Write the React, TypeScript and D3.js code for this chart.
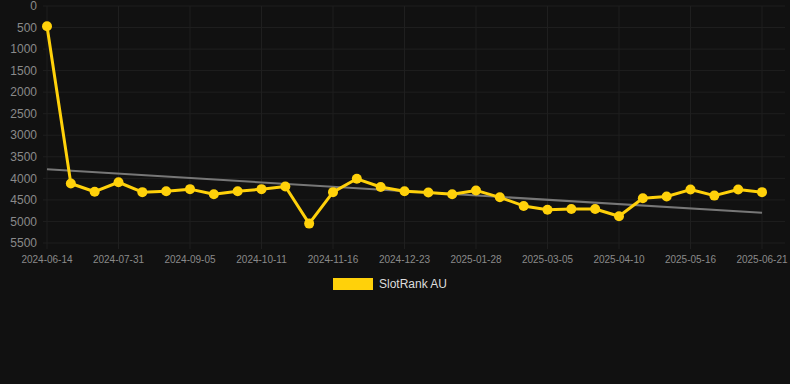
import React from "react";
import * as d3 from "d3";

const dates = [
  "2024-06-14", "2024-07-07", "2024-07-19", "2024-07-31", "2024-08-12", "2024-08-24",
  "2024-09-05", "2024-09-17", "2024-09-29", "2024-10-11", "2024-10-23", "2024-11-04",
  "2024-11-16", "2024-11-28", "2024-12-11", "2024-12-23", "2025-01-04", "2025-01-16",
  "2025-01-28", "2025-02-09", "2025-02-21", "2025-03-05", "2025-03-17", "2025-03-29",
  "2025-04-10", "2025-04-22", "2025-05-04", "2025-05-16", "2025-05-28", "2025-06-09",
  "2025-06-21",
];

const rankValues = [
  470, 4120, 4310, 4090, 4320, 4300, 4250, 4370, 4300, 4250, 4190, 5050,
  4320, 4010, 4200, 4300, 4330, 4370, 4280, 4440, 4640, 4730, 4710, 4710,
  4880, 4460, 4420, 4260, 4400, 4260, 4320,
];

const trendValues = [3790, 4800];

const yTicks = [0, 500, 1000, 1500, 2000, 2500, 3000, 3500, 4000, 4500, 5000, 5500];

const seriesName = "SlotRank AU";

const W = 790;
const H = 384;
const left = 43;
const right = 785;
const top = 6;
const bottom = 243;
const firstX = 47;
const lastX = 762;

export default function App() {
  const x = d3.scalePoint<string>().domain(dates).range([firstX, lastX]);
  const y = d3.scaleLinear().domain([0, 5500]).range([top, bottom]);
  const line = d3
    .line<number>()
    .x((_, i) => x(dates[i]) as number)
    .y((d) => y(d));
  const labelDates = dates.filter((_, i) => i % 3 === 0);
  const gold = "#FFD10A";
  const grid = "#1f1f1f";
  return (
    <div style={{ position: "fixed", left: 0, top: 0, background: "#111111", width: W, height: H }}>
      <svg width={W} height={H} style={{ display: "block", fontFamily: "Liberation Sans, Arial, sans-serif" }}>
        <rect x={0} y={0} width={W} height={H} fill="#111111" />
        {yTicks.map((t) => (
          <g key={t}>
            <line x1={left} x2={right} y1={y(t)} y2={y(t)} stroke={grid} strokeWidth={1} />
            <text x={37} y={y(t)} dy="0.35em" textAnchor="end" fontSize={12} fill="#8a8a8a">
              {t}
            </text>
          </g>
        ))}
        {labelDates.map((d) => (
          <g key={d}>
            <line x1={x(d)} x2={x(d)} y1={top} y2={bottom + 6} stroke={grid} strokeWidth={1} />
            <text x={x(d)} y={259} dy="0.35em" textAnchor="middle" fontSize={10} fill="#8a8a8a">
              {d}
            </text>
          </g>
        ))}
        <line
          x1={x(dates[0])}
          x2={x(dates[dates.length - 1])}
          y1={y(trendValues[0])}
          y2={y(trendValues[1])}
          stroke="#777777"
          strokeWidth={2}
        />
        <path d={line(rankValues) || ""} fill="none" stroke={gold} strokeWidth={3} strokeLinejoin="round" />
        {rankValues.map((v, i) => (
          <circle key={i} cx={x(dates[i])} cy={y(v)} r={5} fill={gold} />
        ))}
        <rect x={333} y={278} width={40} height={12} fill={gold} />
        <text x={379} y={284} dy="0.35em" fontSize={12} fill="#dddddd">
          {seriesName}
        </text>
      </svg>
    </div>
  );
}
